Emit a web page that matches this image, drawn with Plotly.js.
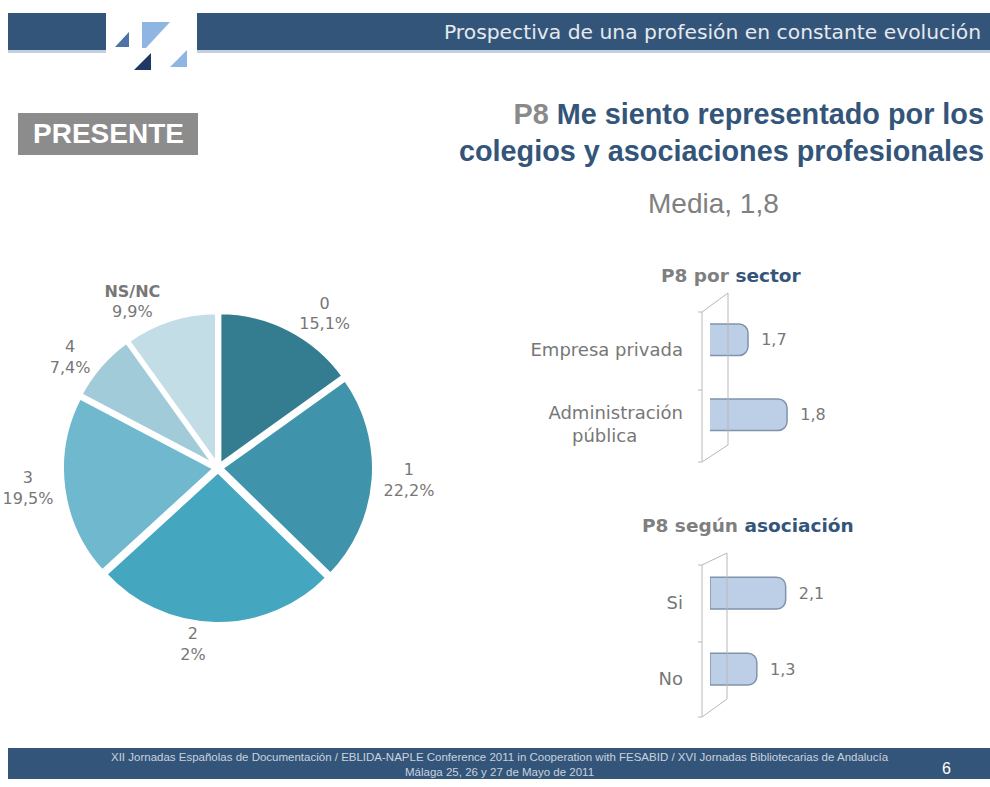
<!DOCTYPE html>
<html>
<head>
<meta charset="utf-8">
<script src="https://cdn.plot.ly/plotly-3.0.1.min.js"></script>
<style>
  body { margin: 0; background: #fff; }
  #chart { width: 990px; height: 787px; }
</style>
</head>
<body>
<div id="chart"></div>
<script>
// pie: P8 answers
const pieLabels = ['0', '1', '2', '3', '4', 'NS/NC'];
const pieValues = [15.1, 22.2, 25.9, 19.5, 7.4, 9.9];
const piePctText = ['15,1%', '22,2%', '2%', '19,5%', '7,4%', '9,9%'];
const pieColors = ['#347d91', '#3f93ab', '#45a6c0', '#6fb8cd', '#a2cbda', '#c3dde7'];

// bars: by sector
const sectorCats = ['Empresa privada', 'Administración<br>pública'];
const sectorVals = [1.7, 1.8];

// bars: by association
const asocCats = ['Si', 'No'];
const asocVals = [2.1, 1.3];

const W = 990, H = 787;
const px = x => x / W;
const py = y => 1 - y / H;
const FONT = 'Liberation Sans, Arial, sans-serif';
const WIDE = 'DejaVu Sans, Verdana, sans-serif';
const GREY = '#777777';
const BLUE = '#34557a';
const NB = '\u00a0';

const pieText = pieLabels.map((l, i) =>
  (l === 'NS/NC' ? '<b>' + l + '</b>' : l) + '<br>' + piePctText[i]);

const pie = {
  type: 'pie',
  labels: pieLabels,
  values: pieValues,
  text: pieText,
  textinfo: 'text',
  textposition: 'outside',
  sort: false,
  direction: 'clockwise',
  rotation: 0,
  pull: 0.02,
  marker: { colors: pieColors, line: { color: '#ffffff', width: 4 } },
  outsidetextfont: { family: WIDE, size: 16, color: GREY },
  domain: { x: [px(62), px(374)], y: [py(624), py(312)] },
  hoverinfo: 'none'
};

const barStyle = {
  color: '#bccfe7',
  line: { color: '#7f94ac', width: 1.5 },
  cornerradius: 9
};

function barTrace(cats, vals, xa, ya) {
  return {
    type: 'bar',
    orientation: 'h',
    y: cats,
    x: vals,
    width: 0.42,
    offset: -0.34,
    marker: barStyle,
    texttemplate: NB + NB + '%{x:.1f}',
    textposition: 'outside',
    constraintext: 'none',
    cliponaxis: false,
    textfont: { family: WIDE, size: 16, color: GREY },
    xaxis: xa, yaxis: ya,
    hoverinfo: 'none'
  };
}

const sector = barTrace(sectorCats, sectorVals, 'x', 'y');
const asoc = barTrace(asocCats, asocVals, 'x2', 'y2');

// centre the second line of the two-line label like the slide does
const sectorTicks = sectorCats.map(c => c.replace('<br>pública', '<br>pública' + NB.repeat(8)));

const hiddenX = {
  showgrid: false, zeroline: false, showline: false,
  showticklabels: false, ticks: '', fixedrange: true
};
const catY = {
  showgrid: false, zeroline: false, showline: false, ticks: '',
  autorange: 'reversed', ticklabelstandoff: 26,
  tickfont: { family: WIDE, size: 18, color: GREY }
};

const wallColor = '#b8b8b8';
function wall(x0, x1, top0, bot0, top1, bot1, mid0) {
  const l = { type: 'line', xref: 'paper', yref: 'paper', line: { color: wallColor, width: 1 } };
  return [
    Object.assign({}, l, { x0: px(x0), x1: px(x0), y0: py(top0), y1: py(bot0) }),
    Object.assign({}, l, { x0: px(x1), x1: px(x1), y0: py(top1), y1: py(bot1) }),
    Object.assign({}, l, { x0: px(x0), x1: px(x1), y0: py(top0), y1: py(top1) }),
    Object.assign({}, l, { x0: px(x0), x1: px(x1), y0: py(bot0), y1: py(bot1) }),
    Object.assign({}, l, { x0: px(x0 - 4), x1: px(x0), y0: py(top0), y1: py(top0) }),
    Object.assign({}, l, { x0: px(x0 - 4), x1: px(x0), y0: py(mid0), y1: py(mid0) }),
    Object.assign({}, l, { x0: px(x0 - 4), x1: px(x0), y0: py(bot0), y1: py(bot0) })
  ];
}

function rect(x0, y0, x1, y1, color) {
  return { type: 'rect', xref: 'paper', yref: 'paper', layer: 'below',
    x0: px(x0), x1: px(x1), y0: py(y1), y1: py(y0),
    fillcolor: color, line: { width: 0 } };
}
function tri(pts, color) {
  const d = 'M ' + pts.map(p => px(p[0]) + ' ' + py(p[1])).join(' L ') + ' Z';
  return { type: 'path', xref: 'paper', yref: 'paper', path: d, fillcolor: color, line: { width: 0 } };
}

const shapes = [
  // header + footer bars
  rect(8, 13, 106, 50, '#34557a'),
  rect(197, 13, 990, 50, '#34557a'),
  rect(8, 50, 106, 53, '#c5d0dd'),
  rect(197, 50, 990, 53, '#c5d0dd'),
  rect(8, 748, 990, 779, '#34557a'),
  // logo
  tri([[115, 47], [129, 32], [129, 47]], '#4d72a6'),
  tri([[142, 22], [170, 22], [146, 48], [142, 48]], '#8fb6e2'),
  tri([[134, 70], [151, 53], [151, 70]], '#1f3864'),
  tri([[170, 67], [187, 50], [187, 67]], '#8fb6e2'),
  // PRESENTE box
  rect(18, 113, 198, 155, '#8c8c8c')
].concat(
  wall(702, 728, 312, 462, 293, 445, 390),
  wall(702, 727, 565, 717, 553, 699, 642)
);

function note(text, x, y, size, color, opts) {
  return Object.assign({
    text: text, xref: 'paper', yref: 'paper', x: px(x), y: py(y),
    xanchor: 'center', yanchor: 'middle',
    showarrow: false, font: { family: FONT, size: size, color: color }
  }, opts || {});
}

const annotations = [
  note('Prospectiva de una profesión en constante evolución', 983, 32, 20.3, '#e6e9ee',
    { xanchor: 'right', font: { family: WIDE, size: 20.3, color: '#e6e9ee' } }),
  note('<b>PRESENTE</b>', 108, 134, 28, '#ffffff'),
  note('<b><span style="color:#8a8a8a">P8</span> Me siento representado por los<br>' +
       'colegios y asociaciones profesionales</b>', 986, 132, 28.8, BLUE,
    { xanchor: 'right', align: 'right' }),
  note('Media, 1,8', 713, 203, 28, '#808080'),
  note('<b><span style="color:#7f7f7f">P8 por</span> sector</b>', 731, 275, 18.5, BLUE,
    { font: { family: WIDE, size: 18.5, color: BLUE } }),
  note('<b><span style="color:#7f7f7f">P8 según</span> asociación</b>', 748, 525, 18.5, BLUE,
    { font: { family: WIDE, size: 18.5, color: BLUE } }),
  note('XII Jornadas Españolas de Documentación / EBLIDA-NAPLE Conference 2011 in Cooperation with FESABID / XVI Jornadas Bibliotecarias de Andalucía<br>' +
       'Málaga 25, 26 y 27 de Mayo de 2011', 500, 764, 11.5, '#c9d2de'),
  note('6', 946, 768, 16, '#ffffff')
];

const layout = {
  width: W, height: H,
  margin: { l: 0, r: 0, t: 0, b: 0 },
  paper_bgcolor: '#ffffff',
  plot_bgcolor: 'rgba(0,0,0,0)',
  showlegend: false,
  separators: ',.',
  font: { family: FONT, color: GREY },
  xaxis: Object.assign({}, hiddenX, { domain: [px(710), px(830)], range: [1.6026, 1.91] }),
  yaxis: Object.assign({}, catY, { domain: [py(462), py(312)], anchor: 'x',
    tickmode: 'array', tickvals: sectorCats, ticktext: sectorTicks }),
  xaxis2: Object.assign({}, hiddenX, { domain: [px(710), px(830)], range: [0, 3.33], anchor: 'y2' }),
  yaxis2: Object.assign({}, catY, { domain: [py(717), py(565)], anchor: 'x2' }),
  shapes: shapes,
  annotations: annotations
};

Plotly.newPlot('chart', [pie, sector, asoc], layout, { staticPlot: true, displayModeBar: false });
</script>
</body>
</html>
